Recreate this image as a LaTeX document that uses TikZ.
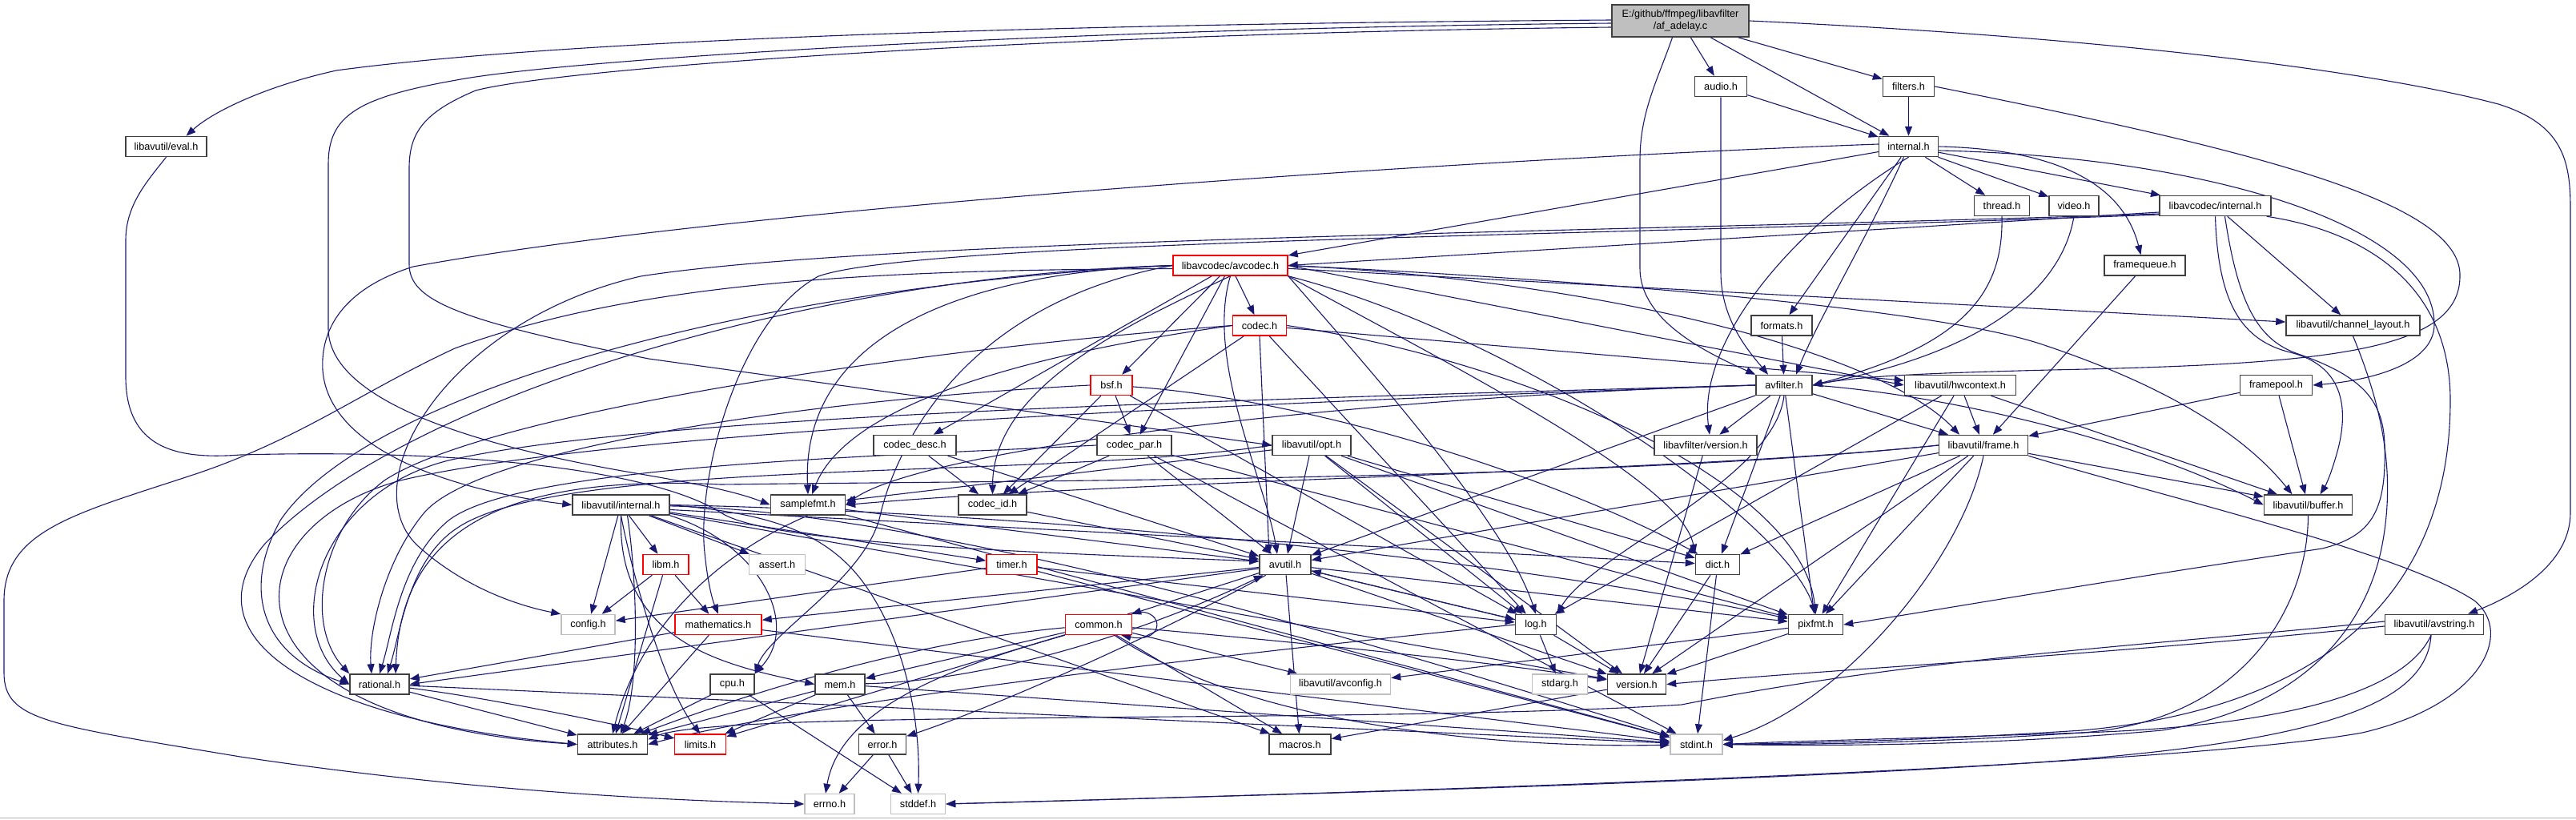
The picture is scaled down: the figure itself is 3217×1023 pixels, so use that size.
\documentclass[tikz,border=0pt]{standalone}
\usepackage{fontspec}
\setmainfont{Liberation Sans}
\usetikzlibrary{arrows.meta}
\definecolor{edgec}{HTML}{191970}
\definecolor{lgray}{HTML}{BFBFBF}
\definecolor{bordc}{HTML}{404040}
\pgfdeclarelayer{bg}
\pgfsetlayers{bg,main}
\begin{document}
\begin{tikzpicture}[x=1pt,y=-1pt,
  nd/.style={draw=bordc, line width=1.5pt, fill=white, minimum height=25pt, inner sep=0pt, font=\fontsize{12.7}{15}\selectfont},
  rednd/.style={nd, draw=red},
  graynd/.style={nd, draw=lgray},
  e/.style={draw=edgec, line width=1.1pt, -{Triangle[length=12pt,width=9pt]}}]
\useasboundingbox (0,0) rectangle (3217,1023);
% nodes
\node[nd, fill=lgray, minimum width=171pt, minimum height=40pt, align=center] (adelay) at (2098.5,26) {E:/github/ffmpeg/libavfilter\\/af\_adelay.c};
\node[nd, minimum width=65pt] (audio) at (2149,108) {audio.h};
\node[nd, minimum width=64pt] (filters) at (2383.5,108) {filters.h};
\node[nd, minimum width=101pt] (eval) at (207.5,183) {libavutil/eval.h};
\node[nd, minimum width=74pt] (internal) at (2383.5,183) {internal.h};
\node[nd, minimum width=69pt] (thread) at (2500,257) {thread.h};
\node[nd, minimum width=62pt] (video) at (2590,257) {video.h};
\node[nd, minimum width=139pt] (lcinternal) at (2766.5,257) {libavcodec/internal.h};
\node[nd, minimum width=101pt] (framequeue) at (2678.5,331.5) {framequeue.h};
\node[rednd, minimum width=143pt] (avcodec) at (1536.5,331.5) {libavcodec/avcodec.h};
\node[rednd, minimum width=67pt] (codec) at (1573,406.5) {codec.h};
\node[nd, minimum width=76pt] (formats) at (2225,406.5) {formats.h};
\node[nd, minimum width=167pt] (chlayout) at (2938.5,406.5) {libavutil/channel\_layout.h};
\node[rednd, minimum width=52pt] (bsf) at (1388,481) {bsf.h};
\node[nd, minimum width=70pt] (avfilter) at (2228,481) {avfilter.h};
\node[nd, minimum width=139pt] (hwcontext) at (2448,481) {libavutil/hwcontext.h};
\node[nd, minimum width=90pt] (framepool) at (2842.5,481) {framepool.h};
\node[nd, minimum width=103pt] (codecdesc) at (1142.5,556) {codec\_desc.h};
\node[nd, minimum width=93pt] (codecpar) at (1416.5,556) {codec\_par.h};
\node[nd, minimum width=98pt] (opt) at (1638,556) {libavutil/opt.h};
\node[nd, minimum width=128pt] (lfversion) at (2130,556) {libavfilter/version.h};
\node[nd, minimum width=111pt] (frame) at (2477,556) {libavutil/frame.h};
\node[nd, minimum width=121pt] (luinternal) at (775.5,630.5) {libavutil/internal.h};
\node[nd, minimum width=93pt] (samplefmt) at (1009,630.5) {samplefmt.h};
\node[nd, minimum width=85pt] (codecid) at (1239.5,630.5) {codec\_id.h};
\node[nd, minimum width=110pt] (buffer) at (2882.5,630.5) {libavutil/buffer.h};
\node[rednd, minimum width=57pt] (libm) at (831.5,705) {libm.h};
\node[graynd, minimum width=70pt] (assert) at (970.5,705) {assert.h};
\node[rednd, minimum width=63pt] (timer) at (1263.5,705) {timer.h};
\node[nd, minimum width=64pt] (avutil) at (1605,705) {avutil.h};
\node[nd, minimum width=55pt] (dict) at (2145,705) {dict.h};
\node[graynd, minimum width=67pt] (config) at (734.5,780) {config.h};
\node[rednd, minimum width=108pt] (mathematics) at (897,780) {mathematics.h};
\node[rednd, minimum width=83pt] (common) at (1372,780) {common.h};
\node[nd, minimum width=51pt] (log) at (1918,780) {log.h};
\node[nd, minimum width=68pt] (pixfmt) at (2267.5,780) {pixfmt.h};
\node[nd, minimum width=123pt] (avstring) at (3040,780) {libavutil/avstring.h};
\node[nd, minimum width=74pt] (rational) at (474,854.5) {rational.h};
\node[nd, minimum width=55pt] (cpu) at (914.5,854.5) {cpu.h};
\node[nd, minimum width=62pt] (mem) at (1049,854.5) {mem.h};
\node[graynd, minimum width=125pt] (avconfig) at (1674,854.5) {libavutil/avconfig.h};
\node[graynd, minimum width=69pt] (stdarg) at (1948,854.5) {stdarg.h};
\node[nd, minimum width=73pt] (version) at (2044,854.5) {version.h};
\node[nd, minimum width=87pt] (attributes) at (765,929.5) {attributes.h};
\node[rednd, minimum width=64pt] (limits) at (874.5,929.5) {limits.h};
\node[nd, minimum width=59pt] (error) at (1102,929.5) {error.h};
\node[nd, minimum width=77pt] (macros) at (1623.5,929.5) {macros.h};
\node[graynd, minimum width=65pt] (stdint) at (2118.5,929.5) {stdint.h};
\node[graynd, minimum width=62pt] (errno) at (1036,1004) {errno.h};
\node[graynd, minimum width=68pt] (stddef) at (1146.5,1004) {stddef.h};
\begin{pgfonlayer}{bg}
\fill[white] (0,0) rectangle (3217,1023);
\draw[line width=1.5pt, color=black!30] (0,1021.5) -- (3217,1021.5);
% af_adelay.c
\draw[e] ([yshift=1pt]adelay.west) .. controls (1300,30) and (700,50) .. (420,88) .. controls (330,108) and (265,140) .. ([xshift=25pt]eval.north);
\draw[e] ([yshift=-3pt]adelay.west) .. controls (1300,36) and (700,75) .. (570,100) .. controls (445,122) and (410,145) .. (410,205) -- (410,410) .. controls (410,480) and (520,545) .. (800,592) .. controls (870,604) and (920,614) .. (samplefmt.west);
\draw[e] ([yshift=-8pt]adelay.west) .. controls (1300,42) and (700,85) .. (594,113) .. controls (530,140) and (511,165) .. (511,210) -- (511,330) .. controls (511,375) and (570,400) .. (810,448) -- (opt.west);
\draw[e] ([xshift=-10pt]adelay.south) .. controls (2070,100) and (2048,140) .. (2048,200) -- (2048,335) .. controls (2048,400) and (2130,440) .. (avfilter.north west);
\draw[e] (adelay) -- (audio);
\draw[e] (adelay) -- (internal);
\draw[e] (adelay) -- (filters);
\draw[e] (adelay.east) .. controls (2600,45) and (2950,85) .. (3120,130) .. controls (3200,155) and (3210,200) .. (3210,260) -- (3210,640) .. controls (3210,700) and (3150,740) .. ([xshift=42pt]avstring.north);
% audio, filters
\draw[e] (audio) -- (internal);
\draw[e] (audio.south) -- (2149,340) .. controls (2149,400) and (2185,440) .. ([xshift=-20pt]avfilter.north);
\draw[e] (filters) -- (internal);
\draw[e] (filters.east) .. controls (2800,185) and (3075,250) .. (3072,345) .. controls (3072,440) and (2900,455) .. (2560,462) .. controls (2400,466) and (2320,470) .. (avfilter.east);
\draw[e] (thread.south) .. controls (2502,360) and (2460,430) .. (avfilter.east);
\draw[e] (video.south) .. controls (2575,360) and (2480,440) .. (avfilter.east);
% internal.h
\draw[e] (internal) -- (thread);
\draw[e] (internal) -- (video);
\draw[e] (internal) -- (lcinternal);
\draw[e] (internal.east) .. controls (2560,186) and (2650,225) .. ([xshift=-5pt]framequeue.north);
\draw[e] ([yshift=-5pt]internal.east) .. controls (2750,195) and (3040,280) .. (3040,405) .. controls (3040,455) and (2960,475) .. (framepool.east);
\draw[e] (internal) -- (avcodec);
\draw[e] ([yshift=3pt]internal.west) .. controls (1800,200) and (900,262) .. (516,333) .. controls (430,360) and (400,410) .. (403,462) .. controls (410,560) and (560,612) .. (luinternal.west);
\draw[e] (internal) -- (formats);
\draw[e] (internal) .. controls (2330,300) and (2270,400) .. ([xshift=15pt]avfilter.north);
\draw[e] (internal.south) .. controls (2230,290) and (2120,430) .. ([xshift=5pt]lfversion.north);
% libavcodec/internal.h
\draw[e] ([yshift=-8pt]lcinternal.west) -- (avcodec.east);
\draw[e] ([yshift=-10pt]lcinternal.west) .. controls (2000,290) and (1100,298) .. (800,345) .. controls (560,400) and (440,600) .. (520,680) .. controls (580,735) and (650,757) .. (config.north west);
\draw[e] ([yshift=-11pt]lcinternal.west) .. controls (2000,295) and (1150,300) .. (1022,345) .. controls (920,400) and (870,600) .. (880,690) .. controls (884,730) and (890,750) .. (mathematics.north);
\draw[e] (lcinternal) -- (chlayout);
\draw[e] (lcinternal.south) .. controls (2770,380) and (2800,425) .. (2860,440) .. controls (2920,455) and (2935,500) .. (2920,560) .. controls (2912,590) and (2905,605) .. ([xshift=15pt]buffer.north);
\draw[e] ([xshift=12pt]lcinternal.south) .. controls (2795,380) and (2820,425) .. (2870,442) .. controls (2950,470) and (2978,500) .. (2978,560) .. controls (2980,640) and (2960,670) .. (2900,685) .. controls (2600,730) and (2400,765) .. (pixfmt.east);
\draw[e] ([xshift=-6pt]lcinternal.south east) .. controls (2960,290) and (3060,360) .. (3060,500) .. controls (3060,700) and (2950,880) .. (2600,912) .. controls (2400,925) and (2250,928) .. (stdint.east);
% framequeue, framepool, formats
\draw[e] (framequeue) -- (frame);
\draw[e] (framepool) -- (buffer);
\draw[e] (framepool) -- (frame);
\draw[e] (formats) -- (avfilter);
% avfilter.h
\draw[e] (avfilter) -- (lfversion);
\draw[e] (avfilter) -- (frame);
\draw[e] (avfilter.east) .. controls (2400,490) and (2650,540) .. (buffer.west);
\draw[e] (avfilter) -- (dict);
\draw[e] (avfilter.south) .. controls (2215,600) and (1990,690) .. (log.north east);
\draw[e] (avfilter) -- (pixfmt);
\draw[e] (avfilter.west) .. controls (1700,495) and (1150,560) .. (samplefmt.east);
\draw[e] (avfilter.west) .. controls (1500,500) and (800,520) .. (560,575) .. controls (400,615) and (350,780) .. (rational.west);
\draw[e] (avfilter.west) .. controls (1500,505) and (750,540) .. (500,600) .. controls (280,660) and (260,900) .. (attributes.west);
\draw[e] (avfilter) -- (avutil);
% avcodec.h
\draw[e] (avcodec) -- (codec);
\draw[e] (avcodec) -- (bsf);
\draw[e] (avcodec) -- (codecdesc);
\draw[e] (avcodec) -- (codecpar);
\draw[e] (avcodec.south) .. controls (1420,400) and (1240,480) .. (codecid.north);
\draw[e] (avcodec.west) .. controls (1200,340) and (1000,420) .. (samplefmt.north);
\draw[e] ([yshift=-4pt]avcodec.west) .. controls (1100,337) and (800,350) .. (568,435) .. controls (450,490) and (380,545) .. (250,590) .. controls (100,640) and (5,660) .. (5,750) -- (5,840) .. controls (5,900) and (60,905) .. (300,945) .. controls (600,990) and (850,1000) .. (errno.west);
\draw[e] (avcodec.west) .. controls (1000,345) and (500,500) .. (330,680) .. controls (230,800) and (400,900) .. (attributes.west);
\draw[e] (avcodec.south) .. controls (1505,450) and (1580,600) .. ([xshift=-10pt]avutil.north);
\draw[e] (avcodec.east) .. controls (1900,345) and (2400,380) .. (2550,430) .. controls (2700,480) and (2800,540) .. ([xshift=-20pt]buffer.north);
\draw[e] (avcodec.west) .. controls (1200,380) and (1120,560) .. (1100,640) .. controls (1085,720) and (960,790) .. (cpu.north east);
\draw[e] (avcodec) -- (chlayout);
\draw[e] (avcodec.east) -- (hwcontext.west);
\draw[e] (avcodec.east) .. controls (2000,350) and (2350,440) .. ([xshift=-30pt]frame.north);
\draw[e] (avcodec.south east) .. controls (1800,450) and (2100,600) .. (dict.north west);
\draw[e] (avcodec.south east) .. controls (1700,450) and (1880,650) .. (log.north);
\draw[e] (avcodec.south east) .. controls (1900,420) and (2230,650) .. (pixfmt.north);
\draw[e] (avcodec.west) .. controls (900,360) and (450,500) .. (350,650) .. controls (300,740) and (330,820) .. (rational.west);
% codec.h
\draw[e] (codec) -- (hwcontext);
\draw[e] (codec.east) .. controls (1900,450) and (2250,600) .. (pixfmt.north);
\draw[e] (codec) -- (log);
\draw[e] (codec.south) -- ([xshift=-20pt]avutil.north);
\draw[e] (codec.west) .. controls (1100,440) and (600,520) .. (480,600) .. controls (400,660) and (380,780) .. (rational.north west);
\draw[e] (codec.west) .. controls (1300,440) and (1060,500) .. ([xshift=5pt]samplefmt.north);
\draw[e] (codec) -- (codecid);
% bsf.h
\draw[e] (bsf) .. controls (1650,500) and (1950,600) .. (dict);
\draw[e] (bsf) -- (log);
\draw[e] (bsf.west) .. controls (1000,500) and (600,560) .. (530,640) .. controls (480,700) and (460,790) .. ([xshift=-10pt]rational.north);
\draw[e] (bsf) -- (codecid);
\draw[e] (bsf) -- (codecpar);
% codec_desc.h, codec_par.h, codec_id.h
\draw[e] (codecdesc) -- (avutil);
\draw[e] (codecdesc) -- (codecid);
\draw[e] (codecpar) -- (stdint);
\draw[e] (codecpar) -- (avutil);
\draw[e] (codecpar.west) .. controls (1100,570) and (650,580) .. (560,650) .. controls (500,700) and (490,790) .. (rational.north);
\draw[e] (codecpar) -- (pixfmt);
\draw[e] (codecpar) -- (codecid);
\draw[e] (codecid) -- (avutil);
% opt.h
\draw[e] (opt.west) .. controls (1300,600) and (700,570) .. (570,660) .. controls (510,700) and (500,790) .. ([xshift=10pt]rational.north);
\draw[e] (opt) -- (avutil);
\draw[e] (opt) -- (dict);
\draw[e] (opt) -- (log);
\draw[e] (opt) -- (pixfmt);
\draw[e] (opt) -- (samplefmt);
\draw[e] (opt) -- (version);
% hwcontext.h
\draw[e] (hwcontext) -- (buffer);
\draw[e] (hwcontext) -- (frame);
\draw[e] (hwcontext) -- (log);
\draw[e] (hwcontext) -- (pixfmt);
% frame.h
\draw[e] (frame.south east) .. controls (2700,620) and (3000,690) .. (3090,750) .. controls (3140,790) and (3100,880) .. (2950,915) .. controls (2700,960) and (1700,990) .. (stddef.east);
\draw[e] (frame.south) .. controls (2450,700) and (2300,880) .. ([yshift=5pt]stdint.east);
\draw[e] (frame) -- (avutil);
\draw[e] (frame) -- (buffer);
\draw[e] (frame) -- (dict);
\draw[e] (frame.west) .. controls (2000,600) and (1300,600) .. (900,605) .. controls (600,590) and (500,680) .. ([xshift=20pt]rational.north);
\draw[e] (frame.west) .. controls (2100,590) and (1400,600) .. (samplefmt.east);
\draw[e] (frame) -- (pixfmt);
\draw[e] (frame) -- (version);
% buffer, channel_layout
\draw[e] (buffer.south) .. controls (2882,760) and (2800,900) .. (2600,915) .. controls (2400,928) and (2250,930) .. (stdint.east);
\draw[e] (chlayout.south) .. controls (2980,520) and (2990,600) .. (2975,680) .. controls (2960,760) and (2900,880) .. (2700,912) .. controls (2500,930) and (2300,932) .. (stdint.east);
\draw[e] (lfversion) -- (version);
% samplefmt.h
\draw[e] (samplefmt) -- (avutil);
\draw[e] (samplefmt.south) .. controls (900,690) and (800,780) .. (attributes.north);
\draw[e] (samplefmt) -- (stdint);
% dict, log, pixfmt
\draw[e] (dict) -- (stdint);
\draw[e] (dict) -- (version);
\draw[e] (log) -- (stdarg);
\draw[e] (log) -- (avutil);
\draw[e] (log.west) .. controls (1500,820) and (1000,880) .. (attributes.east);
\draw[e] (log) -- (version);
\draw[e] (pixfmt) -- (avconfig);
\draw[e] (pixfmt) -- (version);
% avutil.h
\draw[e] (avutil) -- (common);
\draw[e] (avutil) .. controls (1450,790) and (1250,880) .. (error);
\draw[e] ([yshift=-5pt]avutil.west) -- (rational.east);
\draw[e] (avutil) -- (version);
\draw[e] (avutil) -- (macros);
\draw[e] (avutil) -- (mathematics);
\draw[e] (avutil) -- (log);
\draw[e] (avutil) -- (pixfmt);
% common.h
\draw[e] ([xshift=-6pt]common.north east) .. controls (1455,752) and (1458,805) .. ([xshift=-14pt]common.south east);
\draw[e] (common) -- (mem);
\draw[e] (common) .. controls (1150,800) and (950,860) .. (attributes);
\draw[e] (common) -- (limits);
\draw[e] (common.south west) .. controls (1200,830) and (1050,880) .. ([xshift=-5pt]errno.north);
\draw[e] (common) .. controls (1550,900) and (1850,935) .. (stdint);
\draw[e] (common) -- (macros);
\draw[e] (common) .. controls (1600,800) and (1850,825) .. (version);
\draw[e] (common) -- (avconfig);
\draw[e] (version) -- (macros);
% mathematics, rational, mem, error, cpu
\draw[e] (mathematics) -- (stdint);
\draw[e] (mathematics) -- (attributes);
\draw[e] (mathematics) -- (rational);
\draw[e] (rational) -- (stdint);
\draw[e] (rational) .. controls (600,870) and (750,900) .. (limits);
\draw[e] (rational) -- (attributes);
\draw[e] (mem) -- (limits);
\draw[e] (mem) -- (stdint);
\draw[e] (mem) -- (attributes);
\draw[e] (mem) -- (error);
\draw[e] (mem) .. controls (1250,850) and (1450,780) .. (avutil);
\draw[e] (error) -- (errno);
\draw[e] (error) -- (stddef);
\draw[e] (cpu) -- (stddef);
\draw[e] (cpu) -- (attributes);
% libavutil/internal.h
\draw[e] (luinternal) -- (libm);
\draw[e] (luinternal) -- (assert);
\draw[e] (luinternal) -- (config);
\draw[e] (luinternal) -- (timer);
\draw[e] (luinternal.south east) .. controls (950,680) and (1000,780) .. (cpu.north east);
\draw[e] (luinternal.south) .. controls (770,800) and (900,830) .. (mem.west);
\draw[e] (luinternal.south) .. controls (790,720) and (830,860) .. (limits.north);
\draw[e] ([xshift=8pt]luinternal.south) .. controls (795,720) and (800,850) .. ([xshift=10pt]attributes.north);
\draw[e] (luinternal) .. controls (1200,640) and (1800,830) .. (stdint);
\draw[e] (luinternal.east) .. controls (950,640) and (1030,660) .. (1080,730) .. controls (1130,800) and (1150,900) .. (stddef.north);
\draw[e] ([yshift=-6pt]luinternal.east) -- (dict);
\draw[e] (luinternal.east) .. controls (1300,640) and (1900,700) .. (pixfmt);
\draw[e] (luinternal) -- (version);
\draw[e] (luinternal) -- (macros);
% libm, timer, eval
\draw[e] (libm) -- (config);
\draw[e] (libm) -- (attributes);
\draw[e] (libm) -- (mathematics);
\draw[e] (timer) -- (config);
\draw[e] (timer) -- (log);
\draw[e] (timer) -- (stdint);
\draw[e] (eval.south) .. controls (185,225) and (157,255) .. (157,300) -- (157,470) .. controls (157,560) and (220,574) .. (300,568) .. controls (600,560) and (820,590) .. (900,640) .. controls (960,680) and (1300,690) .. ([yshift=4pt]avutil.west);
% avstring.h
\draw[e] ([xshift=-4pt]avstring.south) .. controls (3010,850) and (2900,905) .. (2600,915) .. controls (2400,922) and (2250,925) .. (stdint.east);
\draw[e] ([xshift=-4pt]avstring.south) .. controls (3030,880) and (2900,930) .. (2500,955) .. controls (2100,980) and (1500,995) .. (stddef.east);
\draw[e] ([yshift=4pt]avstring.west) .. controls (2700,805) and (2400,820) .. (2100,880) .. controls (1700,905) and (900,885) .. ([yshift=6pt]attributes.east);
\draw[e] ([yshift=-2pt]avstring.west) .. controls (2600,820) and (2300,835) .. (version.east);
\end{pgfonlayer}
\end{tikzpicture}
\end{document}
